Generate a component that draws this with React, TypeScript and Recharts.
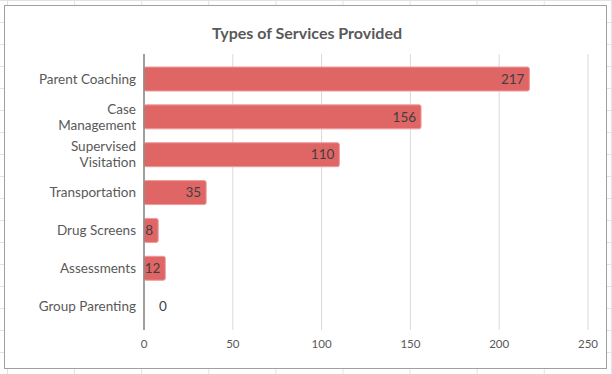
import { BarChart, Bar, XAxis, YAxis, CartesianGrid, LabelList, Cell } from "recharts";

const categories = [
	"Parent Coaching",
	"Case Management",
	"Supervised Visitation",
	"Transportation",
	"Drug Screens",
	"Assessments",
	"Group Parenting",
];
const tickLines = [
	["Parent Coaching"],
	["Case", "Management"],
	["Supervised", "Visitation"],
	["Transportation"],
	["Drug Screens"],
	["Assessments"],
	["Group Parenting"],
];
const services = [217, 156, 110, 35, 8, 12, 0];
const xTicks = [0, 50, 100, 150, 200, 250];

const data = categories.map((name, i) => ({ name, value: services[i] }));

const FONT = "Lato, 'Open Sans', sans-serif";
const TEXT = "#595959";
const BAR = "#E06666";

function CategoryTick(props: any) {
	const { x, y, index } = props;
	const lines = tickLines[index] ?? [props.payload.value];
	const lh = 16;
	const start = y - ((lines.length - 1) * lh) / 2;
	return (
		<g>
			{lines.map((l: string, i: number) => (
				<text
					key={i}
					x={x}
					y={start + i * lh}
					dy="0.35em"
					textAnchor="end"
					fill={TEXT}
					fontSize={13.5}
					fontFamily={FONT}
				>
					{l}
				</text>
			))}
		</g>
	);
}

function ValueLabel(props: any) {
	const { x, y, width, height, value } = props;
	const outside = Number(value) === 0;
	return (
		<text
			x={outside ? x + width + 15 : x + width - 5}
			y={y + height / 2}
			dy="0.35em"
			textAnchor={outside ? "start" : "end"}
			fill="#404040"
			fontSize={13.5}
			fontFamily={FONT}
		>
			{value}
		</text>
	);
}

export default function App() {
	return (
		<div
			style={{
				position: "absolute",
				left: 0,
				top: 0,
				width: 612,
				height: 374,
				backgroundColor: "#fff",
				backgroundImage:
					"linear-gradient(to right, #e2e2e2 1px, transparent 1px), linear-gradient(to bottom, #e2e2e2 1px, transparent 1px)",
				backgroundSize: "67.1px 22px",
				backgroundPosition: "7px 0px",
				overflow: "hidden",
			}}
		>
			<div
				style={{
					position: "absolute",
					left: 4,
					top: 5,
					width: 601,
					height: 362,
					border: "1px solid #a0a0a0",
					background: "#fff",
				}}
			/>
			<div
				style={{
					position: "absolute",
					left: 0,
					top: 22,
					width: 614,
					textAlign: "center",
					fontFamily: FONT,
					fontWeight: 700,
					fontSize: 16,
					lineHeight: "22px",
					color: TEXT,
				}}
			>
				Types of Services Provided
			</div>
			<div style={{ position: "absolute", left: 0, top: 0 }}>
				<BarChart
					width={612}
					height={374}
					data={data}
					layout="vertical"
					margin={{ top: 54, right: 24, bottom: 14, left: 8 }}
				>
					<CartesianGrid horizontal={false} stroke="#d9d9d9" />
					<XAxis
						type="number"
						domain={[0, 250]}
						ticks={xTicks}
						axisLine={false}
						tickLine={false}
						tickSize={0}
						tickMargin={10}
						height={30}
						tick={{ fill: TEXT, fontSize: 11.5, fontFamily: FONT }}
					/>
					<YAxis
						type="category"
						dataKey="name"
						width={136}
						tickLine={false}
						tickSize={0}
						tickMargin={8}
						padding={{ top: 6, bottom: 5 }}
						axisLine={{ stroke: "#868686", strokeWidth: 1.5 }}
						tick={<CategoryTick />}
						interval={0}
					/>
					<Bar
						dataKey="value"
						fill={BAR}
						strokeWidth={1}
						barSize={24}
						radius={2}
						minPointSize={0.01}
						isAnimationActive={false}
					>
						{data.map((d, i) => (
							<Cell key={`cell-${i}`} stroke={d.value === 0 ? "none" : "#EE9C9C"} />
						))}
						<LabelList dataKey="value" content={<ValueLabel />} />
					</Bar>
				</BarChart>
			</div>
		</div>
	);
}
